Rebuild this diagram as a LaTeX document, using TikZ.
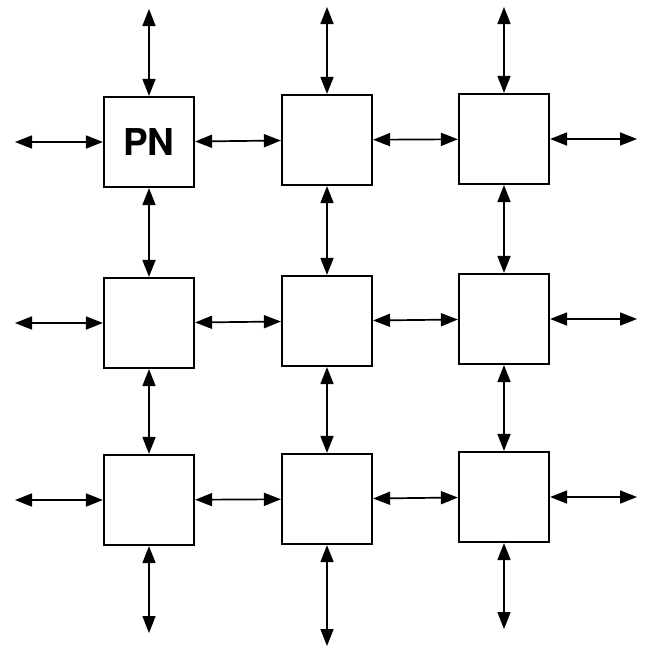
\documentclass[tikz,border=0pt]{standalone}
\usepackage{fontspec}
\setsansfont{TeX Gyre Heros}
\usetikzlibrary{arrows.meta}
\tikzset{
	pnbox/.style={draw, line width=2.2pt, minimum size=90pt, inner sep=0pt,
		font=\fontsize{37}{40}\selectfont\sffamily\bfseries},
	link/.style={line width=1.7pt, {Triangle[length=17pt 0,width=13pt 0]}-{Triangle[length=17pt 0,width=13pt 0]}}
}

\begin{document}
\begin{tikzpicture}[x=1pt, y=-1pt]
		%%%%% START %%%%%
		
		\useasboundingbox (0, 0) rectangle (645, 651);
		
		% processing nodes
		\node[pnbox] (pnA1) at (149, 142) {PN};
		\node[pnbox] (pnA2) at (327, 140) {};
		\node[pnbox] (pnA3) at (504, 139) {};
		\node[pnbox] (pnB1) at (149, 323) {};
		\node[pnbox] (pnB2) at (327, 321) {};
		\node[pnbox] (pnB3) at (504, 319) {};
		\node[pnbox] (pnC1) at (149, 500) {};
		\node[pnbox] (pnC2) at (327, 499) {};
		\node[pnbox] (pnC3) at (504, 497) {};
		
		% free ends
		\coordinate (topA1) at (149, 9);
		\coordinate (topA2) at (327, 7);
		\coordinate (topA3) at (504, 7);
		\coordinate (leftA) at (15, 142);
		\coordinate (leftB) at (15, 323);
		\coordinate (leftC) at (15, 500);
		\coordinate (rightA) at (637, 139);
		\coordinate (rightB) at (637, 319);
		\coordinate (rightC) at (637, 497);
		\coordinate (botC1) at (149, 633);
		\coordinate (botC2) at (327, 646);
		\coordinate (botC3) at (504, 629);
		
		% vertical links
		\draw[link] (topA1) -- (pnA1);
		\draw[link] (topA2) -- (pnA2);
		\draw[link] (topA3) -- (pnA3);
		\draw[link] (pnA1) -- (pnB1);
		\draw[link] (pnA2) -- (pnB2);
		\draw[link] (pnA3) -- (pnB3);
		\draw[link] (pnB1) -- (pnC1);
		\draw[link] (pnB2) -- (pnC2);
		\draw[link] (pnB3) -- (pnC3);
		\draw[link] (pnC1) -- (botC1);
		\draw[link] (pnC2) -- (botC2);
		\draw[link] (pnC3) -- (botC3);
		
		% horizontal links
		\draw[link] (leftA) -- (pnA1);
		\draw[link] (leftB) -- (pnB1);
		\draw[link] (leftC) -- (pnC1);
		\draw[link] (pnA1) -- (pnA2);
		\draw[link] (pnB1) -- (pnB2);
		\draw[link] (pnC1) -- (pnC2);
		\draw[link] (pnA2) -- (pnA3);
		\draw[link] (pnB2) -- (pnB3);
		\draw[link] (pnC2) -- (pnC3);
		\draw[link] (pnA3) -- (rightA);
		\draw[link] (pnB3) -- (rightB);
		\draw[link] (pnC3) -- (rightC);
		
		%%%%% END %%%%%
	\end{tikzpicture}
\end{document}
